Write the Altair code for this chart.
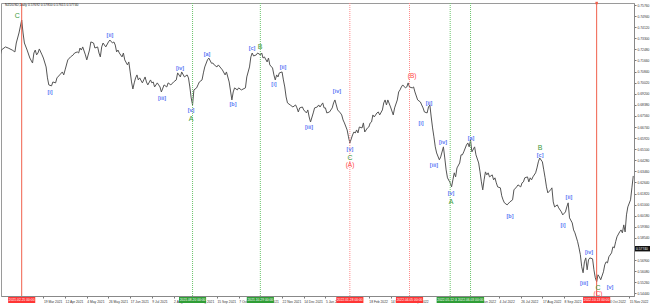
import altair as alt
import pandas as pd

# ---------------- data ----------------
bars = [0, 1, 4, 6, 9, 11, 12, 14, 16, 17, 18, 20, 22, 24, 25, 26, 27, 28, 29, 31, 32, 34, 35, 36, 38, 39, 41, 42, 44, 46,
        47, 48, 50, 52, 54, 55, 57, 58, 59, 60, 61, 63, 64, 66, 67, 69, 70, 72, 73, 74, 75, 76, 78, 80, 81, 83, 84, 85, 86, 87,
        88, 90, 91, 92, 94, 95, 96, 97, 98, 99, 100, 101, 102, 103, 105, 106, 107, 108, 109, 111, 112, 113, 114, 116, 117, 118, 119, 121, 123, 124,
        126, 128, 130, 131, 133, 134, 136, 138, 139, 140, 141, 142, 143, 145, 146, 147, 149, 150, 151, 153, 154, 156, 157, 158, 160, 161, 164, 166, 167, 169,
        171, 172, 173, 175, 176, 178, 181, 182, 184, 185, 186, 187, 189, 190, 192, 193, 194, 195, 197, 198, 199, 201, 202, 203, 204, 205, 206, 208, 209, 210,
        211, 212, 214, 216, 218, 219, 220, 221, 223, 224, 226, 227, 228, 229, 231, 232, 234, 235, 236, 238, 239, 240, 241, 243, 245, 246, 247, 248, 249, 251,
        252, 253, 254, 256, 257, 258, 260, 261, 262, 263, 264, 265, 267, 268, 269, 271, 272, 273, 274, 275, 276, 278, 279, 280, 282, 283, 284, 285, 286, 288,
        290, 291, 293, 294, 295, 296, 297, 299, 300, 301, 302, 304, 305, 306, 308, 310, 311, 312, 313, 315, 316, 317, 318, 319, 320, 321, 322, 324, 325, 327,
        328, 329, 330, 332, 333, 334, 335, 336, 337, 339, 340, 341, 342, 344, 345, 346, 347, 348, 350, 351, 353, 354, 355, 356, 357, 358, 359, 360, 361, 363,
        364, 365, 366, 367, 369, 370, 371, 372, 374, 376, 378, 379, 381, 382, 384, 385, 386, 387, 389, 390, 391, 392, 393, 395, 396, 397, 398, 400, 401, 402,
        403, 404, 406, 407, 408, 409, 411, 412, 414, 415, 417, 418, 419, 420, 422, 423, 424, 426, 427, 428, 429, 430, 431, 432, 433, 434, 435, 437, 438, 439,
        440, 441, 442, 443, 445, 446, 447, 448, 449, 451, 452, 453, 454, 455, 457, 458, 459, 460, 461, 462, 463, 465, 466, 467]
close = [0.7192, 0.7243, 0.7266, 0.7258, 0.7243, 0.7229, 0.7295, 0.7369, 0.7465, 0.7369, 0.7295, 0.7243, 0.7184, 0.7147, 0.7221, 0.7243, 0.7207, 0.7221, 0.7251, 0.7207,
         0.7184, 0.7118, 0.7037, 0.6985, 0.6978, 0.7007, 0.7000, 0.7037, 0.7059, 0.7081, 0.7059, 0.7096, 0.7170, 0.7192, 0.7207, 0.7221, 0.7229, 0.7221, 0.7258, 0.7243,
         0.7266, 0.7207, 0.7170, 0.7243, 0.7303, 0.7295, 0.7258, 0.7266, 0.7221, 0.7192, 0.7266, 0.7295, 0.7266, 0.7303, 0.7317, 0.7295, 0.7303, 0.7280, 0.7229, 0.7243,
         0.7221, 0.7192, 0.7221, 0.7170, 0.7133, 0.7155, 0.7081, 0.7007, 0.6955, 0.7000, 0.7037, 0.7059, 0.7022, 0.7037, 0.7000, 0.7022, 0.7044, 0.7007, 0.6985, 0.7022,
         0.7000, 0.7007, 0.6970, 0.7000, 0.6985, 0.6970, 0.6933, 0.6985, 0.6970, 0.7000, 0.6985, 0.7007, 0.7022, 0.7074, 0.7044, 0.7081, 0.7044, 0.7059, 0.7037, 0.6970,
         0.6889, 0.6837, 0.6948, 0.6963, 0.6985, 0.7007, 0.7022, 0.7074, 0.7118, 0.7170, 0.7184, 0.7145, 0.7147, 0.7133, 0.7118, 0.7133, 0.7096, 0.7059, 0.7081, 0.7007,
         0.6874, 0.6933, 0.6963, 0.6948, 0.6963, 0.6948, 0.6963, 0.7044, 0.7118, 0.7192, 0.7221, 0.7199, 0.7207, 0.7221, 0.7207, 0.7221, 0.7184, 0.7192, 0.7155, 0.7184,
         0.7133, 0.7110, 0.7059, 0.7022, 0.7059, 0.7044, 0.7074, 0.7081, 0.7022, 0.6970, 0.6896, 0.6852, 0.6837, 0.6822, 0.6837, 0.6815, 0.6785, 0.6815, 0.6822, 0.6800,
         0.6778, 0.6800, 0.6748, 0.6711, 0.6778, 0.6815, 0.6822, 0.6837, 0.6822, 0.6852, 0.6815, 0.6815, 0.6778, 0.6785, 0.6815, 0.6852, 0.6874, 0.6837, 0.6800, 0.6778,
         0.6763, 0.6726, 0.6704, 0.6652, 0.6601, 0.6556, 0.6615, 0.6637, 0.6630, 0.6652, 0.6630, 0.6674, 0.6667, 0.6704, 0.6637, 0.6667, 0.6674, 0.6704, 0.6711, 0.6763,
         0.6748, 0.6778, 0.6785, 0.6763, 0.6800, 0.6852, 0.6874, 0.6837, 0.6874, 0.6822, 0.6763, 0.6815, 0.6874, 0.6933, 0.6948, 0.6970, 0.6985, 0.6963, 0.6970, 0.7000,
         0.6970, 0.6963, 0.6970, 0.6933, 0.6874, 0.6859, 0.6837, 0.6815, 0.6785, 0.6778, 0.6822, 0.6837, 0.6748, 0.6667, 0.6601, 0.6527, 0.6482, 0.6431, 0.6453, 0.6527,
         0.6445, 0.6357, 0.6298, 0.6261, 0.6231, 0.6283, 0.6335, 0.6305, 0.6371, 0.6408, 0.6468, 0.6468, 0.6490, 0.6541, 0.6556, 0.6527, 0.6578, 0.6490, 0.6527, 0.6468,
         0.6408, 0.6342, 0.6268, 0.6209, 0.6283, 0.6342, 0.6320, 0.6335, 0.6305, 0.6320, 0.6283, 0.6298, 0.6261, 0.6231, 0.6224, 0.6165, 0.6135, 0.6113, 0.6098, 0.6120,
         0.6135, 0.6209, 0.6231, 0.6246, 0.6231, 0.6261, 0.6268, 0.6298, 0.6305, 0.6268, 0.6298, 0.6283, 0.6305, 0.6335, 0.6371, 0.6416, 0.6445, 0.6416, 0.6357, 0.6298,
         0.6231, 0.6187, 0.6209, 0.6224, 0.6120, 0.6083, 0.6098, 0.6076, 0.6046, 0.6024, 0.6046, 0.6083, 0.6113, 0.6002, 0.5965, 0.5913, 0.5891, 0.5825, 0.5780, 0.5729,
         0.5640, 0.5596, 0.5677, 0.5706, 0.5618, 0.5692, 0.5706, 0.5699, 0.5618, 0.5559, 0.5529, 0.5581, 0.5566, 0.5544, 0.5603, 0.5655, 0.5677, 0.5669, 0.5714, 0.5743,
         0.5788, 0.5780, 0.5825, 0.5862, 0.5899, 0.5913, 0.5891, 0.5950, 0.5898, 0.6024, 0.6083, 0.6135, 0.6224, 0.6312]

# x-axis date labels, one every 16 daily bars
date_labels = ["3 Feb 2021", "25 Feb 2021", "19 Mar 2021", "12 Apr 2021", "4 May 2021", "26 May 2021", "17 Jun 2021",
               "9 Jul 2021", "2 Aug 2021", "24 Aug 2021", "15 Sep 2021", "7 Oct 2021", "29 Oct 2021", "22 Nov 2021",
               "14 Dec 2021", "5 Jan 2022", "27 Jan 2022", "18 Feb 2022", "14 Mar 2022", "5 Apr 2022", "27 Apr 2022",
               "19 May 2022", "10 Jun 2022", "4 Jul 2022", "26 Jul 2022", "17 Aug 2022", "8 Sep 2022", "30 Sep 2022",
               "24 Oct 2022", "15 Nov 2022"]
# labels completely hidden behind the vertical-line date tags in the reference
hidden_label_index = [1, 16, 20, 21, 27]
date_tick_bars = [16 * i for i in range(len(date_labels)) if i not in hidden_label_index]

# right price axis labels
price_ticks = [0.7576, 0.7494, 0.7412, 0.7330, 0.7248, 0.7166, 0.7084, 0.7002, 0.6920, 0.6838, 0.6756, 0.6674,
               0.6592, 0.6510, 0.6428, 0.6346, 0.6264, 0.6182, 0.6100, 0.6018, 0.5936, 0.5854, 0.5690,
               0.5608, 0.5526, 0.5444]

# Elliott wave labels
wave_text = ["C", "[i]", "[ii]", "[iii]", "[iv]", "[v]", "A", "[a]", "[b]", "[c]", "B",
             "[i]", "[ii]", "[iii]", "[iv]", "[v]", "C", "(A)", "(B)",
             "[i]", "[ii]", "[iii]", "[iv]", "[v]", "A", "[a]", "[b]", "[c]", "B",
             "[i]", "[ii]", "[iii]", "[iv]", "C", "(C)", "[v]"]
wave_bar = [12.8, 36.9, 81.1, 119.5, 132.8, 140.9, 140.9, 152.7, 171.8, 185.9, 191.8,
            202.0, 208.7, 227.9, 248.5, 258.1, 258.1, 258.1, 303.9,
            310.5, 316.4, 320.0, 326.7, 332.6, 332.6, 347.4, 376.1, 398.3, 398.3,
            415.2, 419.6, 430.7, 434.4, 441.0, 441.0, 449.9]
wave_price = [0.7497, 0.6933, 0.7354, 0.6889, 0.7110, 0.6800, 0.6733, 0.7214, 0.6844, 0.7258, 0.7266,
              0.6992, 0.7118, 0.6674, 0.6940, 0.6512, 0.6445, 0.6393, 0.7051,
              0.6704, 0.6852, 0.6393, 0.6563, 0.6187, 0.6120, 0.6593, 0.6016, 0.6468, 0.6519,
              0.5950, 0.6158, 0.5521, 0.5750, 0.5484, 0.5440, 0.5491]
wave_degree = ["g", "b", "b", "b", "b", "b", "g", "b", "b", "b", "g",
               "b", "b", "b", "b", "b", "g", "r", "r",
               "b", "b", "b", "b", "b", "g", "b", "b", "b", "g",
               "b", "b", "b", "b", "g", "r", "b"]

# vertical marker lines with their date tags
vline_bar = [16, 142, 192, 258, 302, 332, 347, 440]
vline_kind = ["red_solid", "green", "green", "red", "red", "green", "green", "red_solid"]
vline_tag = ["2021.02.25 00:00", "2021.08.20 00:00", "2021.10.29 00:00", "2022.01.28 00:00",
             "2022.04.05 00:00", "2022.05.12 00:00", "2022.06.03 00:00", "2022.10.13 00:00"]

current_price = [0.5774]
title_text = "NZDUSD,Daily  0.57692 0.57810 0.57615 0.57740"

# ---------------- chart ----------------
W, H = 633, 293
FONT = "Liberation Sans"
FS = 3.3
xs = alt.Scale(domain=[0.74, 467.55], nice=False, zero=False)
ys = alt.Scale(domain=[0.54243, 0.75908], nice=False, zero=False)

label_array = "[" + ",".join("'%s'" % s for s in date_labels) + "]"
xaxis = alt.Axis(values=date_tick_bars, labelExpr=label_array + "[round(datum.value/16)]",
                 orient="bottom", labelAlign="left", labelBaseline="top", labelPadding=1,
                 labelFontSize=FS, labelFont=FONT, labelColor="#333333", labelOverlap=False,
                 labelFlush=False, tickSize=2, tickColor="#777777", domainColor="#888888",
                 grid=False, title=None, zindex=0)
yaxis = alt.Axis(values=price_ticks, format=".5f", orient="right", labelAlign="left",
                 labelPadding=1, labelFontSize=FS, labelFont=FONT, labelColor="#333333",
                 labelOverlap=False, labelFlush=False, tickSize=2, tickColor="#777777",
                 domainColor="#888888", grid=False, title=None, zindex=0)


def X(field):
    return alt.X(field, scale=xs, axis=xaxis)


def Y(field):
    return alt.Y(field, scale=ys, axis=yaxis)


price_df = pd.DataFrame({"bar": bars, "close": close})
wave_df = pd.DataFrame({"text": wave_text, "bar": wave_bar, "price": wave_price, "deg": wave_degree})
vl_df = pd.DataFrame({"bar": vline_bar, "kind": vline_kind, "tag": vline_tag})

line = alt.Chart(price_df).mark_line(color="#555555", strokeWidth=1, clip=True).encode(
    x=X("bar:Q"), y=Y("close:Q"))


def vrules(kind, color, dash):
    base = alt.Chart(vl_df).transform_filter(alt.datum.kind == kind)
    if dash:
        m = base.mark_rule(color=color, strokeWidth=1, strokeDash=[1, 1])
    else:
        m = base.mark_rule(color=color, strokeWidth=1)
    return m.encode(x=X("bar:Q"))


rules = (vrules("red_solid", "#f0604c", False) + vrules("red", "#ff8c8c", True)
         + vrules("green", "#6cc46c", True))

top_mark = alt.Chart(vl_df).transform_filter(alt.datum.bar == 440).mark_point(
    shape="square", filled=True, size=6, color="#f0604c", opacity=1).encode(
    x=X("bar:Q"), y=alt.value(0))


def tag_layers(filter_expr):
    base = alt.Chart(vl_df).transform_filter(filter_expr).transform_calculate(
        x0="datum.bar - 10", x1="datum.bar + 10",
        fill="indexof(datum.kind, 'red') >= 0 ? '#ff3535' : '#2f9e36'")
    box = base.mark_rect().encode(
        x=X("x0:Q"), x2="x1:Q",
        y=alt.value(H + 1), y2=alt.value(H + 7),
        color=alt.Color("fill:N", scale=None))
    txt = base.mark_text(fontSize=FS, font=FONT, color="white", baseline="middle").encode(
        x=X("bar:Q"), y=alt.value(H + 4), text="tag:N")
    return box + txt


tags_a = tag_layers("datum.bar != 347")
tags_b = tag_layers("datum.bar == 347")


def waves(deg, color, size, weight):
    return alt.Chart(wave_df).transform_filter(alt.datum.deg == deg).mark_text(
        color=color, fontSize=size, font=FONT, fontWeight=weight, baseline="middle").encode(
        x=X("bar:Q"), y=Y("price:Q"), text="text:N")


wave_layers = (waves("b", "#5a78f5", 5.5, "bold") + waves("g", "#3a9a3a", 7, "normal")
               + waves("r", "#ff4545", 6.5, "normal"))

cur_df = pd.DataFrame({"price": current_price})
cur_box = alt.Chart(cur_df).mark_point(
    shape="M-1,-0.3L1,-0.3L1,0.3L-1,0.3Z", filled=True, size=324, color="#111111", opacity=1).encode(
    x=alt.value(W + 10), y=Y("price:Q"))
cur_text = alt.Chart(cur_df).mark_text(fontSize=FS, font=FONT, color="white", align="left",
                                       baseline="middle").encode(
    x=alt.value(W + 2), y=Y("price:Q"), text=alt.Text("price:Q", format=".5f"))

title = alt.Chart(pd.DataFrame({"t": [title_text]})).mark_text(
    fontSize=FS, font=FONT, color="#222222", align="left", baseline="middle").encode(
    x=alt.value(4), y=alt.value(1.5), text="t:N")

chart = alt.layer(line, rules, top_mark, tags_a, tags_b, wave_layers, cur_box, cur_text, title).properties(
    width=W, height=H,
    autosize=alt.AutoSizeParams(type="none"),
    padding={"left": 1, "top": 3, "right": 16, "bottom": 8},
    background="white",
).configure_view(stroke="#9a9a9a", strokeWidth=1)

chart.save("out.html", embed_options={"renderer": "svg", "actions": False})
